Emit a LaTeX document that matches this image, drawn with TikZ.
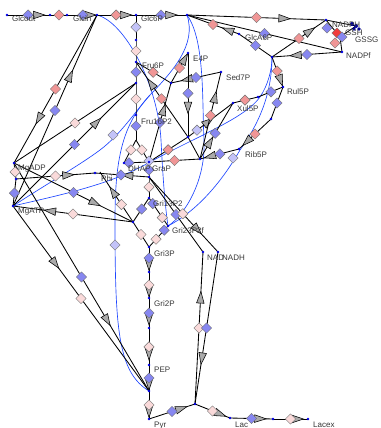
\documentclass[tikz,border=0pt]{standalone}
\usepackage{fontspec}
\setmainfont{Liberation Sans}
\usetikzlibrary{shapes.geometric,calc,decorations.markings}
\definecolor{dB}{RGB}{135,135,240}
\definecolor{lav}{RGB}{195,195,248}
\definecolor{pL}{RGB}{250,218,218}
\definecolor{pM}{RGB}{240,150,150}
\definecolor{rd}{RGB}{240,60,60}
\definecolor{trig}{RGB}{170,170,170}
\definecolor{dotc}{RGB}{0,0,230}
\definecolor{modc}{RGB}{30,70,255}
\definecolor{labc}{RGB}{55,55,55}
\newcounter{dn}
\newcommand\DD[4]{\stepcounter{dn}\node[dg,fill=#1] (d\thedn) at ($(#3)!#2!(#4)$) {};}
\newcommand\DA[3]{\stepcounter{dn}\node[dg,fill=#3] (d\thedn) at (#1,#2) {};}
\tikzset{
 rx/.style={draw=black, line width=0.85pt},
 mod/.style={draw=modc, line width=0.65pt},
 dg/.style={diamond, draw=black!55, line width=0.45pt, minimum size=10.5pt, inner sep=0pt},
 lab/.style={anchor=base west, inner sep=0pt, font=\fontsize{8}{9}\selectfont, text=labc},
 tr/.style={fill=trig, draw=black, line width=0.55pt, line join=miter},
 tf/.style={postaction={decorate,decoration={markings,mark=at position #1 with {\filldraw[tr] (6,0)--(-5.5,3.8)--(-5.5,-3.8)--cycle;}}}},
 tb/.style={postaction={decorate,decoration={markings,mark=at position #1 with {\filldraw[tr] (-6,0)--(5.5,3.8)--(5.5,-3.8)--cycle;}}}},
}
\begin{document}
\begin{tikzpicture}[x=1pt,y=-1pt]
\useasboundingbox (0,0) rectangle (380,428);
% coordinates
\coordinate (glcout) at (7,15);
\coordinate (t1) at (50,15);
\coordinate (t2) at (67,15);
\coordinate (glcin) at (97,15);
\coordinate (glc6p) at (136,15);
\coordinate (r6) at (187,15);
\coordinate (nadph) at (326,20);
\coordinate (glca) at (239,34);
\coordinate (r7) at (272,57);
\coordinate (nadpf) at (342,52);
\coordinate (rul5p) at (283,87);
\coordinate (nq1) at (340,37);
\coordinate (nq2) at (356,26);
\coordinate (c40) at (136,40);
\coordinate (fru6p) at (136,62);
\coordinate (pfk) at (136,83);
\coordinate (fru16) at (136,115);
\coordinate (ald) at (136,140);
\coordinate (dhap) at (124,163);
\coordinate (grap) at (149,162);
\coordinate (gapdh) at (149,177);
\coordinate (gri13) at (149,198);
\coordinate (pgk) at (133,222);
\coordinate (gri23) at (168,226);
\coordinate (gri3p) at (149,247);
\coordinate (g272) at (149,272);
\coordinate (gri2p) at (149,298);
\coordinate (g328) at (149,328);
\coordinate (pep) at (149,365);
\coordinate (pyk) at (149,391);
\coordinate (pyr) at (149,419);
\coordinate (ldh) at (195,404);
\coordinate (lac) at (230,418);
\coordinate (l273) at (273,419);
\coordinate (lacex) at (308,419);
\coordinate (nad) at (203,252);
\coordinate (nadh) at (218,252);
\coordinate (madp) at (14,163);
\coordinate (m179) at (16,179);
\coordinate (matp) at (13,206);
\coordinate (phi) at (95,173);
\coordinate (xtra) at (100,172);
\coordinate (e4p) at (188,53);
\coordinate (tk) at (171,83);
\coordinate (sed7p) at (221,72);
\coordinate (tal) at (188,137);
\coordinate (rx2) at (200,159);
\coordinate (xul5p) at (233,103);
\coordinate (x258) at (258,97);
\coordinate (r119) at (271,119);
\coordinate (rib5p) at (239,149);
% blue modifier curves
\draw[mod] (glcin) .. controls (125,22) and (158,85) .. (161,140) .. controls (163,180) and (165,205) .. (gri23);
\draw[mod] (r6) .. controls (197,45) and (172,72) .. (150,95) .. controls (122,125) and (115,160) .. (115,220) .. controls (115,330) and (118,372) .. (pyk);
\draw[mod] (matp) .. controls (45,185) and (80,165) .. (100,150) .. controls (120,135) and (135,112) .. (150,95);
\draw[mod] (r6) .. controls (205,40) and (202,100) .. (204,140) .. controls (206,180) and (185,215) .. (gri23);
\draw[mod] (matp) .. controls (60,195) and (110,185) .. (150,162) .. controls (200,135) and (245,118) .. (260,97) .. controls (268,85) and (272,70) .. (r7);
\draw[mod] (r7) .. controls (272,95) and (258,125) .. (240,150) .. controls (220,185) and (195,212) .. (gri23);
% black reaction lines
\draw[rx,tf=.74] (glcout) -- (t1);
\draw[rx] (t1) -- (t2);
\draw[rx,tf=.77] (t2) -- (glcin);
\draw[rx,tf=.74] (glcin) -- (glc6p);
\draw[rx,tf=.69] (glc6p) -- (r6);
\draw[rx,tf=.7] (r6) -- (nadph);
\draw[rx,tb=.79] (r6) -- (glca);
\draw[rx] (r6) -- (nadpf);
\draw[rx] (glca) -- (r7);
\draw[rx,tb=.34] (r7) -- (nadpf);
\draw[rx,tf=.7] (r7) -- (nadph);
\draw[rx,tf=.78] (r7) -- (rul5p);
\draw[rx] (nadph) -- (nq1) -- (nadpf);
\draw[rx] (nq1) -- (nq2);
\draw[rx] (nadph) -- (nq2);
\draw[rx] (glc6p) -- (fru6p) -- (pfk) -- (fru16) -- (ald);
\draw[rx] (ald) -- (dhap);
\draw[rx] (ald) -- (grap);
\draw[rx] (dhap) -- (grap);
\draw[rx] (grap) -- (gapdh) -- (gri13);
\draw[rx,tf=.7] (glcin) -- (madp);
\draw[rx,tb=.32] (glcin) -- (matp);
\draw[rx] (pfk) -- (madp);
\draw[rx,tb=.32] (pfk) -- (matp);
\draw[rx] (madp) -- (m179) -- (matp);
\draw[rx,tf=.66] (m179) -- (phi);
\draw[rx,tb=.6] (phi) -- (gapdh);
\draw[rx,tf=.68] (madp) -- (pgk);
\draw[rx,tb=.31] (matp) -- (pgk);
\draw[rx,tb=.4] (xtra) -- (pgk);
\draw[rx] (gri13) -- (pgk);
\draw[rx] (pgk) -- (gri3p);
\draw[rx] (gri13) -- (gri23);
\draw[rx] (gri23) -- (gri3p);
\draw[rx] (gapdh) -- (nad);
\draw[rx,tf=.7] (gapdh) -- (nadh);
\draw[rx,tf=.7] (gri3p) -- (g272);
\draw[rx,tf=.73] (g272) -- (gri2p);
\draw[rx,tf=.7] (gri2p) -- (g328);
\draw[rx,tf=.7] (g328) -- (pep);
\draw[rx,tf=.73] (pep) -- (pyk);
\draw[rx,tf=.73] (pyk) -- (pyr);
\draw[rx,tf=.69] (madp) -- (pyk);
\draw[rx,tf=.31] (matp) -- (pyk);
\draw[rx,tf=.7] (pyr) -- (ldh);
\draw[rx,tf=.7] (ldh) -- (nad);
\draw[rx,tb=.3] (ldh) -- (nadh);
\draw[rx,tf=.72] (ldh) -- (lac);
\draw[rx,tf=.7] (lac) -- (l273);
\draw[rx,tf=.7] (l273) -- (lacex);
\draw[rx] (fru6p) -- (tk);
\draw[rx,tb=.2] (e4p) -- (tk);
\draw[rx,tf=.68] (sed7p) -- (tk);
\draw[rx,tb=.34] (tk) -- (grap);
\draw[rx,tb=.29] (fru6p) -- (tal);
\draw[rx,tf=.65] (e4p) -- (tal);
\draw[rx] (tal) -- (grap);
\draw[rx,tf=.45] (tal) -- (xul5p);
\draw[rx,tb=.29] (sed7p) -- (rx2);
\draw[rx,tf=.3] (rx2) -- (xul5p);
\draw[rx] (grap) -- (rx2);
\draw[rx] (tal) -- (rx2);
\draw[rx,tb=.26] (rx2) -- (rib5p);
\draw[rx] (xul5p) -- (x258) -- (rul5p);
\draw[rx] (rul5p) -- (r119);
\draw[rx,tf=.75] (r119) -- (rib5p);
% diamonds
\DD{dB}{.49}{glcout}{t1}
\DD{pM}{.53}{t1}{t2}
\DD{dB}{.53}{t2}{glcin}
\DD{pM}{.49}{glcin}{glc6p}
\DD{dB}{.49}{glc6p}{r6}
\DD{pM}{.5}{r6}{nadph}
\DD{pM}{.5}{r6}{glca}
\DD{dB}{.5}{r6}{nadpf}
\DD{dB}{.5}{glca}{r7}
\DD{dB}{.5}{r7}{nadpf}
\DD{pM}{.5}{r7}{nadph}
\DD{pM}{.47}{r7}{rul5p}
\DA{327}{28}{dB}
\DA{337}{33}{rd}
\DA{342}{37}{dB}
\DA{335}{43}{pM}
\DD{lav}{.26}{glc6p}{fru6p}
\DD{pL}{.5}{c40}{fru6p}
\DD{dB}{.48}{fru6p}{pfk}
\DD{pL}{.5}{pfk}{fru16}
\DD{dB}{.44}{fru16}{ald}
\DD{pL}{.43}{ald}{dhap}
\DD{pL}{.45}{ald}{grap}
\DD{dB}{.2}{dhap}{grap}
\DA{149}{161}{lav}
\DD{dB}{.53}{grap}{gapdh}
\DD{pL}{.48}{gapdh}{gri13}
\DD{pM}{.5}{glcin}{madp}
\DD{dB}{.5}{glcin}{matp}
\DD{pL}{.5}{pfk}{madp}
\DD{dB}{.5}{pfk}{matp}
\DD{pL}{.56}{madp}{m179}
\DD{dB}{.52}{m179}{matp}
\DD{pL}{.5}{m179}{phi}
\DD{dB}{.48}{phi}{gapdh}
\DD{dB}{.5}{madp}{pgk}
\DD{pL}{.5}{matp}{pgk}
\DD{pL}{.65}{xtra}{pgk}
\DD{dB}{.46}{gri13}{pgk}
\DD{pL}{.5}{pgk}{gri3p}
\DD{dB}{.2}{gri13}{gri23}
\DD{pL}{.7}{gri13}{gri23}
\DD{dB}{.2}{gri23}{gri3p}
\DD{pL}{.63}{gri23}{gri3p}
\DD{dB}{.5}{gapdh}{nad}
\DD{pL}{.49}{gapdh}{nadh}
\DD{dB}{.44}{gri3p}{g272}
\DD{pL}{.5}{g272}{gri2p}
\DD{dB}{.5}{gri2p}{g328}
\DD{pL}{.51}{g328}{pep}
\DD{dB}{.5}{pep}{pyk}
\DD{pL}{.5}{pyk}{pyr}
\DD{dB}{.5}{madp}{pyk}
\DD{pL}{.5}{matp}{pyk}
\DD{dB}{.5}{pyr}{ldh}
\DD{pL}{.5}{ldh}{nad}
\DD{dB}{.5}{ldh}{nadh}
\DD{pL}{.5}{ldh}{lac}
\DD{dB}{.5}{lac}{l273}
\DD{pL}{.5}{l273}{lacex}
\DD{pM}{.49}{fru6p}{tk}
\DD{pM}{.5}{e4p}{tk}
\DD{dB}{.5}{sed7p}{tk}
\DD{dB}{.5}{tk}{grap}
\DD{pM}{.49}{fru6p}{tal}
\DD{dB}{.48}{e4p}{tal}
\DD{pM}{.51}{tal}{grap}
\DD{lav}{.2}{tal}{xul5p}
\DD{pM}{.5}{sed7p}{rx2}
\DD{dB}{.46}{rx2}{xul5p}
\DD{pM}{.5}{grap}{rx2}
\DD{dB}{.51}{rx2}{rib5p}
\DD{pM}{.48}{xul5p}{x258}
\DD{dB}{.52}{x258}{rul5p}
\DD{dB}{.5}{rul5p}{r119}
\DD{pM}{.5}{r119}{rib5p}
\DA{113}{135}{lav}
\DA{115}{245}{lav}
\DA{233}{158}{lav}
% species and reaction points
\foreach \p in {glcout,t1,t2,glcin,glc6p,r6,nadph,glca,r7,nadpf,rul5p,c40,fru6p,pfk,fru16,dhap,grap,gapdh,gri13,pgk,gri23,gri3p,g272,gri2p,g328,pep,pyk,pyr,ldh,lac,l273,lacex,nad,nadh,madp,m179,matp,phi,e4p,tk,sed7p,tal,rx2,xul5p,x258,r119,rib5p}
  \fill[dotc] (\p) circle (1.3);
\fill[blue!60!black] (352,24) circle (2) (356,26) circle (2) (359,29) circle (1.8) (354,29) circle (1.8);
% labels
\node[lab] (Lglcout) at (12,22) {Glcout};
\node[lab] (Lglcin) at (73,22) {Glcin};
\node[lab] (Lglc6p) at (141,22) {Glc6P};
\node[lab] (Lnadph) at (332,28) {NADPH};
\node[lab] (Lgsh) at (345,36) {GSH};
\node[lab] (Lgssg) at (355,43) {GSSG};
\node[lab] (Lnadpf) at (346,59) {NADPf};
\node[lab] (Lglca) at (245,41) {GlcA6P};
\node[lab] (Le4p) at (193,61) {E4P};
\node[lab] (Lfru6p) at (142,68) {Fru6P};
\node[lab] (Lsed7p) at (226,80) {Sed7P};
\node[lab] (Lrul5p) at (287,94) {Rul5P};
\node[lab] (Lxul5p) at (237,111) {Xul5P};
\node[lab] (Lfru16) at (141,124) {Fru16P2};
\node[lab] (Lrib5p) at (245,157) {Rib5P};
\node[lab] (Lmadp) at (18,170) {MgADP};
\node[lab] (Ldhap) at (128,171) {DHAP};
\node[lab] (Lgrap) at (152,171) {GraP};
\node[lab] (Lphi) at (101,181) {Phi};
\node[lab] (Lgri13) at (153,206) {Gri13P2};
\node[lab] (Lmatp) at (18,213) {MgATP};
\node[lab] (Lgri23) at (172,233) {Gri23P2f};
\node[lab] (Lgri3p) at (154,256) {Gri3P};
\node[lab] (Lnad) at (207,260) {NAD};
\node[lab] (Lnadh) at (222,260) {NADH};
\node[lab] (Lgri2p) at (154,306) {Gri2P};
\node[lab] (Lpep) at (154,372) {PEP};
\node[lab] (Lpyr) at (154,427) {Pyr};
\node[lab] (Llac) at (235,427) {Lac};
\node[lab] (Llacex) at (313,427) {Lacex};
\end{tikzpicture}
\end{document}
